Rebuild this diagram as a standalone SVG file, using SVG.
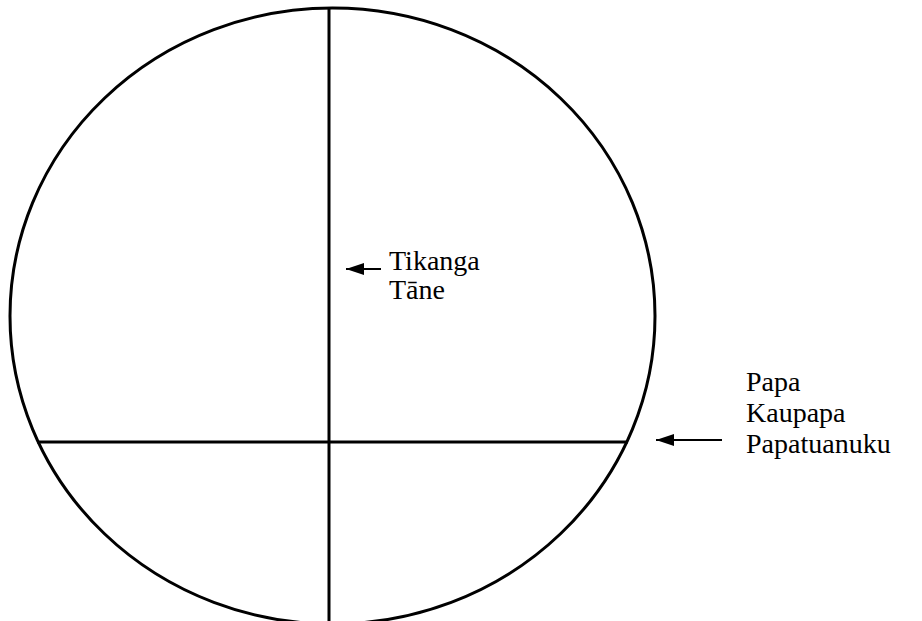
<svg xmlns="http://www.w3.org/2000/svg" width="922" height="621" viewBox="0 0 922 621">
<style>
.sh{fill:none;stroke:#000;stroke-width:3}
.ar{fill:none;stroke:#000;stroke-width:2}
.t{font-family:"Liberation Serif","Times New Roman",serif;font-size:28px;fill:#000}
</style>
<defs>
<marker id="ah" markerUnits="userSpaceOnUse" markerWidth="20" markerHeight="14" refX="18" refY="7" orient="auto">
<path d="M18,7 L0,1 L0,13 Z" fill="#000"/>
</marker>
</defs>
<rect width="922" height="621" fill="#fff"/>
<g id="shape">
<ellipse class="sh" cx="332.5" cy="316" rx="322.5" ry="308"/>
<line class="sh" x1="329" y1="8" x2="329" y2="621"/>
<line class="sh" x1="37" y1="442" x2="628" y2="442"/>
</g>
<g id="connectors">
<line class="ar" x1="381" y1="269" x2="346" y2="269" marker-end="url(#ah)"/>
<line class="ar" x1="722" y1="440" x2="656" y2="440" marker-end="url(#ah)"/>
</g>
<g id="label-tikanga">
<text class="t" x="389" y="270">Tikanga</text>
<text class="t" x="389" y="299">Tāne</text>
</g>
<g id="label-papa">
<text class="t" x="746" y="391">Papa</text>
<text class="t" x="746" y="422">Kaupapa</text>
<text class="t" x="746" y="453">Papatuanuku</text>
</g>
</svg>
